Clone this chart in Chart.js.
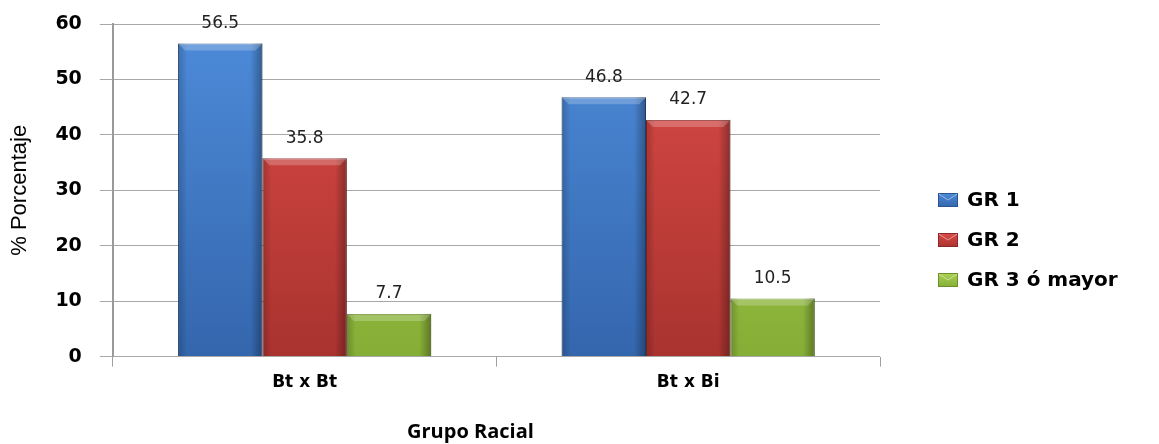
<!DOCTYPE html>
<html>
<head>
<meta charset="utf-8">
<script src="https://cdn.jsdelivr.net/npm/chart.js@4"></script>
<style>
  html, body { margin: 0; padding: 0; background: #fff; }
  #wrap { width: 1159px; height: 444px; position: relative; }
</style>
</head>
<body>
<div id="wrap"><canvas id="chart"></canvas></div>
<script>
// -----------------------------
// DATA
// -----------------------------
const categories = ["Bt x Bt", "Bt x Bi"];
const seriesNames = ["GR 1", "GR 2", "GR 3 ó mayor"];
const gr1Values = [56.5, 46.8];
const gr2Values = [35.8, 42.7];
const gr3Values = [7.7, 10.5];
const yMin = 0;
const yMax = 60;
const yStep = 10;
const xTitle = "Grupo Racial";
const yTitle = "% Porcentaje";

// -----------------------------
// STYLE
// -----------------------------
const palette = [
  { top: "#4d8bd9", bottom: "#3466ad", edge: "#2a5590" },
  { top: "#dc4b48", bottom: "#a9332f", edge: "#8c2926" },
  { top: "#abd253", bottom: "#86ae36", edge: "#6d8f2a" }
];

function barFill(i) {
  return (ctx) => {
    const area = ctx.chart.chartArea;
    if (!area) return palette[i].top;
    const g = ctx.chart.ctx.createLinearGradient(0, area.top, 0, area.bottom);
    g.addColorStop(0, palette[i].top);
    g.addColorStop(1, palette[i].bottom);
    return g;
  };
}

// bevel + shading on top of each bar, value labels, legend, x title
const decorPlugin = {
  id: "decor",
  afterDatasetsDraw(chart) {
    const c = chart.ctx;
    chart.data.datasets.forEach((ds, di) => {
      const meta = chart.getDatasetMeta(di);
      meta.data.forEach((el, j) => {
        const p = el.getProps(["x", "y", "base", "width"], true);
        const l = p.x - p.width / 2, r = p.x + p.width / 2;
        c.save();
        // left shading
        let g = c.createLinearGradient(l, 0, l + 9, 0);
        g.addColorStop(0, "rgba(0,0,0,0.2)");
        g.addColorStop(1, "rgba(0,0,0,0)");
        c.fillStyle = g;
        c.fillRect(l, p.y, 9, p.base - p.y);
        // right shading
        g = c.createLinearGradient(r - 12, 0, r, 0);
        g.addColorStop(0, "rgba(0,0,0,0)");
        g.addColorStop(1, "rgba(0,0,0,0.32)");
        c.fillStyle = g;
        c.fillRect(r - 12, p.y, 12, p.base - p.y);
        // top bevel
        const b = 7;
        c.beginPath();
        c.moveTo(l, p.y);
        c.lineTo(r, p.y);
        c.lineTo(r - b, p.y + b);
        c.lineTo(l + b, p.y + b);
        c.closePath();
        c.fillStyle = "rgba(255,255,255,0.22)";
        c.fill();
        c.restore();

        // value label
        c.save();
        c.font = "17px 'DejaVu Sans'";
        c.fillStyle = "#222";
        c.textAlign = "center";
        c.textBaseline = "middle";
        c.fillText(String(ds.data[j]), p.x, p.y - 20);
        c.restore();
      });
    });

    // legend
    const area = chart.chartArea;
    const lx = area.right + 58;
    const ly = 200;
    c.save();
    chart.data.datasets.forEach((ds, di) => {
      const cy = ly + di * 40;
      const g = c.createLinearGradient(0, cy - 7, 0, cy + 7);
      g.addColorStop(0, palette[di].top);
      g.addColorStop(1, palette[di].bottom);
      c.fillStyle = g;
      c.fillRect(lx, cy - 7, 20, 14);
      c.strokeStyle = palette[di].edge;
      c.lineWidth = 1;
      c.strokeRect(lx + 0.5, cy - 6.5, 19, 13);
      c.beginPath();
      c.moveTo(lx + 1, cy - 6);
      c.lineTo(lx + 10, cy);
      c.lineTo(lx + 19, cy - 6);
      c.strokeStyle = "rgba(255,255,255,0.45)";
      c.stroke();
      c.fillStyle = "#000";
      c.font = "bold 20px 'DejaVu Sans'";
      c.textAlign = "left";
      c.textBaseline = "middle";
      c.fillText(ds.label, lx + 29, cy + 1);
    });

    // x axis title
    c.font = "bold 20px 'Open Sans'";
    c.textAlign = "center";
    c.textBaseline = "middle";
    c.fillStyle = "#000";
    c.fillText(xTitle, (area.left + area.right) / 2 - 26, 432);
    c.restore();
  }
};

// -----------------------------
// CHART
// -----------------------------
const seriesValues = [gr1Values, gr2Values, gr3Values];

new Chart(document.getElementById("chart"), {
  type: "bar",
  data: {
    labels: categories,
    datasets: seriesNames.map((name, i) => ({
      label: name,
      data: seriesValues[i],
      backgroundColor: barFill(i),
      borderColor: palette[i].edge,
      borderWidth: 1,
      categoryPercentage: 0.66,
      barPercentage: 1.0
    }))
  },
  options: {
    responsive: true,
    maintainAspectRatio: false,
    animation: false,
    layout: { padding: { left: 7, right: 279, top: 0, bottom: 45 } },
    plugins: {
      legend: { display: false },
      tooltip: { enabled: false }
    },
    scales: {
      x: {
        grid: {
          offset: true,
          drawOnChartArea: false,
          color: "#a0a0a0",
          tickLength: 10
        },
        border: { display: false },
        ticks: {
          color: "#000",
          padding: 6,
          font: { family: "'DejaVu Sans'", size: 17, weight: "bold" }
        }
      },
      y: {
        min: yMin,
        max: yMax,
        afterFit: (scale) => { scale.paddingTop = 24; },
        ticks: {
          stepSize: yStep,
          color: "#000",
          padding: 18,
          font: { family: "'DejaVu Sans'", size: 19, weight: "bold" }
        },
        grid: { color: "#a8a8a8", tickLength: 13 },
        border: { color: "#9a9a9a", width: 2 },
        title: {
          display: true,
          text: yTitle,
          color: "#000",
          padding: { top: 0, bottom: 4 },
          font: { family: "'Liberation Sans Narrow', 'Liberation Sans'", size: 22 }
        }
      }
    }
  },
  plugins: [decorPlugin]
});
</script>
</body>
</html>
